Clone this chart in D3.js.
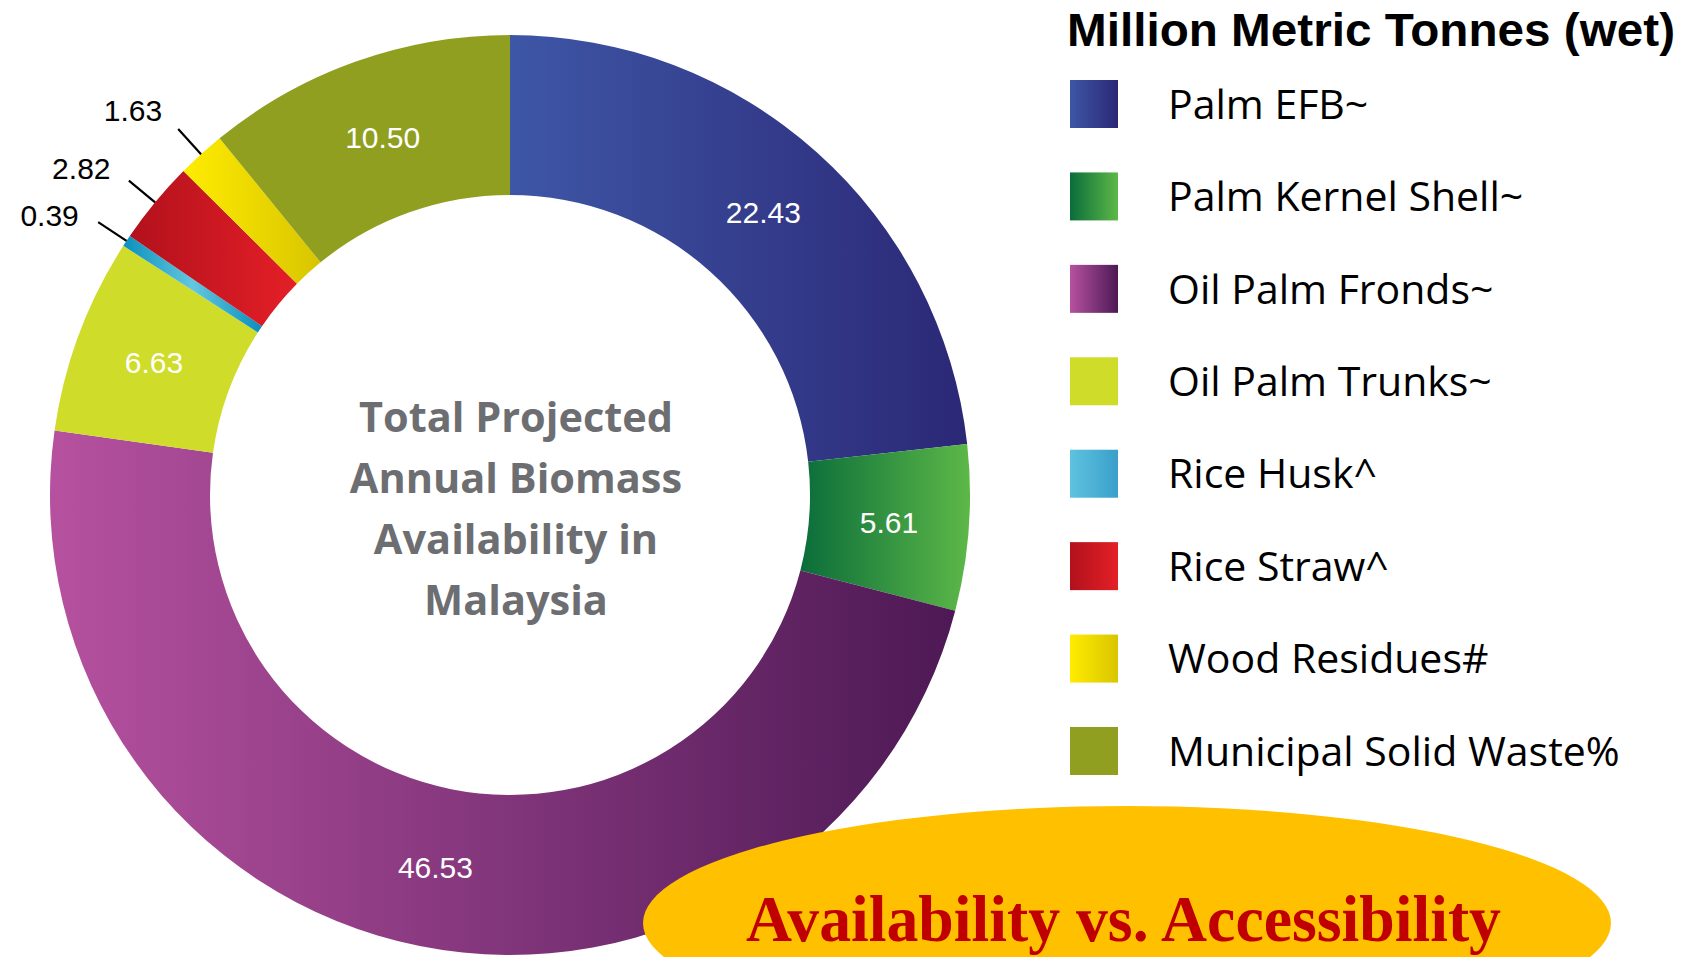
<!DOCTYPE html>
<html>
<head>
<meta charset="utf-8">
<script src="https://cdn.jsdelivr.net/npm/d3@7"></script>
<style>
  html, body { margin: 0; padding: 0; background: #ffffff; }
  svg { display: block; }
</style>
</head>
<body>
<svg id="chart" width="1690" height="957"></svg>
<script>
// ---------------- DATA ----------------
const categories = [
  "Palm EFB~",
  "Palm Kernel Shell~",
  "Oil Palm Fronds~",
  "Oil Palm Trunks~",
  "Rice Husk^",
  "Rice Straw^",
  "Wood Residues#",
  "Municipal Solid Waste%"
];
const values = [22.43, 5.61, 46.53, 6.63, 0.39, 2.82, 1.63, 10.50];
const valueLabels = ["22.43", "5.61", "46.53", "6.63", "0.39", "2.82", "1.63", "10.50"];
const legendTitle = "Million Metric Tonnes (wet)";
const centerLines = ["Total Projected", "Annual Biomass", "Availability in", "Malaysia"];
const bannerText = "Availability vs. Accessibility";

// gradient stops (left -> right) per category, for the ring and for the legend swatches
const sliceStops = [
  ["#3e56a6", "#2b2876"],
  ["#0a6d3a", "#5db848"],
  ["#b6519f", "#4d1955"],
  ["#cfdc2a", "#cfdc2a"],
  ["#0a8fbd", "#63c7df", "#0a8fbd"],
  ["#b2111c", "#e41f27"],
  ["#ffec00", "#d9c500"],
  ["#909f1f", "#909f1f"]
];
const swatchStops = [
  ["#3e56a6", "#2b2876"],
  ["#0a6d3a", "#5db848"],
  ["#b6519f", "#4d1955"],
  ["#cfdc2a", "#cfdc2a"],
  ["#5ec3df", "#3a9fca"],
  ["#b2111c", "#e41f27"],
  ["#ffec00", "#d9c500"],
  ["#909f1f", "#909f1f"]
];

// ---------------- LAYOUT ----------------
const W = 1690, H = 957;
const cx = 510, cy = 495;
const R = 460, r0 = 300;
const outsideThreshold = 3;      // slices smaller than this get outside labels
const labelAngleShift = -2.2 * Math.PI / 180;

const svg = d3.select("#chart");
const defs = svg.append("defs");

function addGradient(id, stops) {
  const g = defs.append("linearGradient")
    .attr("id", id)
    .attr("x1", 0).attr("y1", 0).attr("x2", 1).attr("y2", 0);
  const pos = d3.scaleLinear().domain([0, stops.length - 1]).range([0, 1]);
  stops.forEach((c, i) => {
    g.append("stop").attr("offset", stops.length > 1 ? pos(i) : 0).attr("stop-color", c);
  });
}
sliceStops.forEach((s, i) => addGradient("slice" + i, s));
swatchStops.forEach((s, i) => addGradient("swatch" + i, s));

const data = categories.map((c, i) => ({ cat: c, value: values[i], label: valueLabels[i], idx: i }));

const pie = d3.pie().sort(null).value(d => d.value).startAngle(0).endAngle(2 * Math.PI);
const arcs = pie(data);
const arc = d3.arc().innerRadius(r0).outerRadius(R);
const midArc = d3.arc().innerRadius((R + r0) / 2).outerRadius((R + r0) / 2);

const g = svg.append("g").attr("transform", `translate(${cx},${cy})`);

g.selectAll("path.slice")
  .data(arcs)
  .join("path")
  .attr("class", "slice")
  .attr("d", arc)
  .attr("fill", d => `url(#slice${d.data.idx})`);

// inside labels
g.selectAll("text.inlabel")
  .data(arcs.filter(d => d.data.value >= outsideThreshold))
  .join("text")
  .attr("class", "inlabel")
  .attr("transform", d => `translate(${midArc.centroid(d)})`)
  .attr("text-anchor", "middle")
  .attr("dy", "0.36em")
  .attr("fill", "#ffffff")
  .attr("font-family", "'Liberation Sans', Arial, sans-serif")
  .attr("font-size", 30)
  .text(d => d.data.label);

// outside labels with leader lines
const outside = arcs.filter(d => d.data.value < outsideThreshold);
const polar = (a, rad) => [rad * Math.sin(a), -rad * Math.cos(a)];
g.selectAll("line.leader")
  .data(outside)
  .join("line")
  .attr("class", "leader")
  .attr("x1", d => polar((d.startAngle + d.endAngle) / 2, R)[0])
  .attr("y1", d => polar((d.startAngle + d.endAngle) / 2, R)[1])
  .attr("x2", d => polar((d.startAngle + d.endAngle) / 2, R + 34)[0])
  .attr("y2", d => polar((d.startAngle + d.endAngle) / 2, R + 34)[1])
  .attr("stroke", "#000000")
  .attr("stroke-width", 2.2);
g.selectAll("text.outlabel")
  .data(outside)
  .join("text")
  .attr("class", "outlabel")
  .attr("x", d => polar((d.startAngle + d.endAngle) / 2 + labelAngleShift, R + 79)[0])
  .attr("y", d => polar((d.startAngle + d.endAngle) / 2 + labelAngleShift, R + 79)[1])
  .attr("text-anchor", "middle")
  .attr("dy", "0.36em")
  .attr("fill", "#000000")
  .attr("font-family", "'Liberation Sans', Arial, sans-serif")
  .attr("font-size", 30)
  .text(d => d.data.label);

// center text
const centerY = d3.scalePoint().domain(centerLines).range([432, 615]);
svg.append("g").selectAll("text")
  .data(centerLines)
  .join("text")
  .attr("x", cx + 6)
  .attr("y", d => centerY(d))
  .attr("text-anchor", "middle")
  .attr("fill", "#6d6e71")
  .attr("font-family", "'Open Sans', sans-serif")
  .attr("font-weight", 700)
  .attr("font-size", 41.5)
  .text(d => d);

// legend
const legend = svg.append("g");
legend.append("text")
  .attr("x", 1067)
  .attr("y", 46)
  .attr("fill", "#000000")
  .attr("font-family", "'Liberation Sans', Arial, sans-serif")
  .attr("font-weight", 700)
  .attr("font-size", 47)
  .attr("textLength", 608)
  .attr("lengthAdjust", "spacingAndGlyphs")
  .text(legendTitle);

const rowY = d3.scalePoint().domain(categories).range([80, 727]);
const rows = legend.selectAll("g.row")
  .data(data)
  .join("g")
  .attr("class", "row")
  .attr("transform", d => `translate(0,${rowY(d.cat)})`);
rows.append("rect")
  .attr("x", 1070).attr("y", 0)
  .attr("width", 48).attr("height", 48)
  .attr("fill", d => `url(#swatch${d.idx})`);
rows.append("text")
  .attr("x", 1168)
  .attr("y", 24)
  .attr("dy", "0.36em")
  .attr("fill", "#000000")
  .attr("font-family", "'Open Sans', sans-serif")
  .attr("font-size", 41)
  .text(d => d.cat);

// banner ellipse
svg.append("ellipse")
  .attr("cx", 1127).attr("cy", 923)
  .attr("rx", 484).attr("ry", 117)
  .attr("fill", "#ffc000");
svg.append("text")
  .attr("x", 746)
  .attr("y", 941)
  .attr("fill", "#c00000")
  .attr("font-family", "'Liberation Serif', 'Times New Roman', serif")
  .attr("font-weight", 700)
  .attr("font-size", 66)
  .attr("textLength", 755)
  .attr("lengthAdjust", "spacingAndGlyphs")
  .text(bannerText);
</script>
</body>
</html>
